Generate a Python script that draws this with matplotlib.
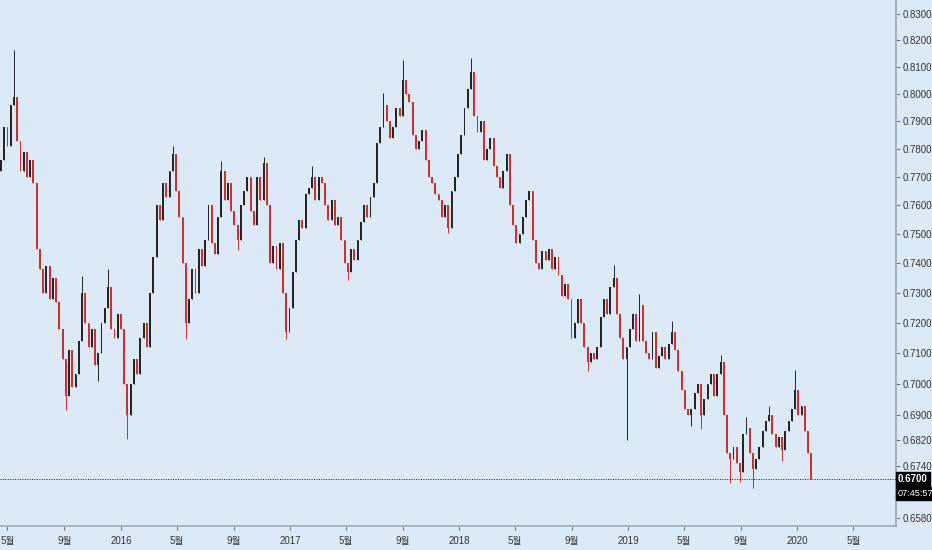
import numpy as np
import pandas as pd
import matplotlib
matplotlib.use('Agg')
import matplotlib.pyplot as plt
from matplotlib.ticker import FixedLocator, NullLocator

# weekly closes (AUD/USD, Apr 2015 - Jan 2020)
closes = [
    0.7760, 0.7880, 0.7810, 0.7960, 0.7990, 0.7830, 0.7720, 0.7790, 0.7700, 0.7760,
    0.7680, 0.7450, 0.7380, 0.7300, 0.7390, 0.7280, 0.7350, 0.7270, 0.7180, 0.7080,
    0.6960, 0.7110, 0.6990, 0.7030, 0.7140, 0.7300, 0.7200, 0.7120, 0.7180, 0.7060,
    0.7100, 0.7200, 0.7250, 0.7320, 0.7180, 0.7150, 0.7230, 0.7180, 0.7000, 0.6900,
    0.7000, 0.7080, 0.7030, 0.7150, 0.7200, 0.7120, 0.7300, 0.7420, 0.7600, 0.7550,
    0.7680, 0.7630, 0.7720, 0.7780, 0.7650, 0.7560, 0.7400, 0.7200, 0.7280, 0.7380,
    0.7300, 0.7450, 0.7390, 0.7480, 0.7600, 0.7470, 0.7430, 0.7560, 0.7720, 0.7620,
    0.7680, 0.7580, 0.7530, 0.7480, 0.7600, 0.7650, 0.7700, 0.7580, 0.7530, 0.7700,
    0.7620, 0.7750, 0.7600, 0.7400, 0.7460, 0.7380, 0.7470, 0.7300, 0.7170, 0.7250,
    0.7370, 0.7480, 0.7550, 0.7520, 0.7640, 0.7660, 0.7700, 0.7620, 0.7700, 0.7680,
    0.7600, 0.7550, 0.7620, 0.7530, 0.7560, 0.7480, 0.7400, 0.7370, 0.7450, 0.7410,
    0.7480, 0.7540, 0.7600, 0.7560, 0.7630, 0.7680, 0.7820, 0.7880, 0.7960, 0.7900,
    0.7840, 0.7880, 0.7950, 0.7920, 0.8050, 0.8000, 0.7970, 0.7850, 0.7800, 0.7830,
    0.7870, 0.7760, 0.7700, 0.7680, 0.7640, 0.7620, 0.7560, 0.7600, 0.7520, 0.7650,
    0.7700, 0.7780, 0.7850, 0.7950, 0.8020, 0.8080, 0.7920, 0.7860, 0.7900, 0.7760,
    0.7800, 0.7840, 0.7740, 0.7700, 0.7660, 0.7720, 0.7780, 0.7600, 0.7530, 0.7470,
    0.7500, 0.7560, 0.7620, 0.7650, 0.7480, 0.7400, 0.7380, 0.7440, 0.7410, 0.7450,
    0.7380, 0.7420, 0.7360, 0.7290, 0.7330, 0.7280, 0.7150, 0.7200, 0.7280, 0.7200,
    0.7120, 0.7070, 0.7100, 0.7080, 0.7120, 0.7220, 0.7280, 0.7230, 0.7320, 0.7350,
    0.7230, 0.7150, 0.7080, 0.7120, 0.7180, 0.7230, 0.7140, 0.7260, 0.7140, 0.7100,
    0.7080, 0.7170, 0.7050, 0.7090, 0.7120, 0.7080, 0.7130, 0.7170, 0.7110, 0.7040,
    0.6980, 0.6920, 0.6900, 0.6920, 0.6970, 0.7000, 0.6900, 0.6950, 0.7000, 0.7030,
    0.6960, 0.7030, 0.7070, 0.6900, 0.6780, 0.6760, 0.6800, 0.6750, 0.6720, 0.6840,
    0.6860, 0.6780, 0.6730, 0.6760, 0.6800, 0.6850, 0.6880, 0.6900, 0.6840, 0.6800,
    0.6830, 0.6790, 0.6850, 0.6880, 0.6920, 0.6980, 0.6900, 0.6930, 0.6850, 0.6780,
    0.6700,
]
first_open = 0.7720
start_date = '2015-04-17'

# wicks that stick out past the bodies
spike_high = {4: 0.8165, 25: 0.7355, 33: 0.7380, 53: 0.7810, 68: 0.7755, 81: 0.7770,
              96: 0.7740, 118: 0.8005, 124: 0.8126, 145: 0.8135, 189: 0.7394,
              197: 0.7296, 207: 0.7206, 222: 0.7092, 230: 0.6895, 237: 0.6930,
              245: 0.7045}
spike_low = {20: 0.6917, 30: 0.7010, 39: 0.6825, 57: 0.7145, 73: 0.7445, 88: 0.7145,
             107: 0.7343, 138: 0.7505, 181: 0.7040, 193: 0.6820, 213: 0.6865,
             216: 0.6855, 225: 0.6688, 228: 0.6690, 232: 0.6671, 241: 0.6754}

price_ticks = [0.8300, 0.8200, 0.8100, 0.8000, 0.7900, 0.7800, 0.7700, 0.7600, 0.7500,
               0.7400, 0.7300, 0.7200, 0.7100, 0.7000, 0.6900, 0.6820, 0.6740, 0.6580]
last_price = 0.6700
countdown = '07:45:57'
month_label = {5: '5월', 9: '9월'}

BG = '#dceaf8'
UP = '#262626'
DOWN = '#d0302c'
AXIS = '#9aabbd'
FONT = ['Liberation Sans', 'Noto Sans CJK KR', 'DejaVu Sans']


def main():
    dates = pd.date_range(start_date, periods=len(closes), freq='7D')
    c = np.array(closes)
    o = np.concatenate([[first_open], c[:-1]])
    hi = np.maximum(o, c)
    lo = np.minimum(o, c)
    for k, v in spike_high.items():
        hi[k] = v
    for k, v in spike_low.items():
        lo[k] = v
    up = c >= o
    cols = np.where(up, UP, DOWN)

    fig = plt.figure(figsize=(9.32, 5.5), dpi=100, facecolor=BG)
    ax = fig.add_axes([0, 24 / 550, 896 / 932, 526 / 550])
    ax.set_facecolor(BG)

    ax.vlines(dates, lo, hi, colors=cols, linewidth=0.7, zorder=2)
    ax.bar(dates, np.maximum(o, c) - np.minimum(o, c), bottom=np.minimum(o, c),
           width=4.0, color=cols, linewidth=0, zorder=3)

    ax.axhline(last_price, color='#111111', linestyle=(0, (1, 1.5)), linewidth=0.7, zorder=4)

    ax.set_yscale('log')
    ax.set_ylim(0.6556, 0.8354)
    ax.set_xlim(pd.Timestamp('2015-04-14 20:00'), pd.Timestamp('2020-08-01'))

    ax.yaxis.tick_right()
    ax.yaxis.set_major_locator(FixedLocator(price_ticks))
    ax.yaxis.set_minor_locator(NullLocator())
    ax.set_yticklabels([f'{p:.4f}' for p in price_ticks])

    xt = pd.date_range('2015-05-01', '2020-05-01', freq='4MS')
    ax.set_xticks(xt)
    ax.set_xticklabels([str(d.year) if d.month == 1 else month_label[d.month] for d in xt])

    ax.tick_params(axis='y', length=3, width=0.6, color='#555555', pad=1.5,
                   labelsize=7, labelcolor='#333333')
    ax.tick_params(axis='x', length=3, width=0.6, color='#555555', pad=4,
                   labelsize=7, labelcolor='#333333')
    for t in ax.get_xticklabels() + ax.get_yticklabels():
        t.set_family(FONT)

    for s in ['left', 'top']:
        ax.spines[s].set_visible(False)
    for s in ['right', 'bottom']:
        ax.spines[s].set_color(AXIS)
        ax.spines[s].set_linewidth(1.2)

    # price and countdown boxes on the right scale
    box = dict(boxstyle='square,pad=0.22', fc='black', ec='black')
    ax.annotate(f'{last_price:.4f}', xy=(1, last_price), xycoords=('axes fraction', 'data'),
                xytext=(1.5, 0), textcoords='offset points', ha='left', va='center',
                fontsize=7, color='white', fontweight='bold', family=FONT,
                bbox=box, zorder=10, annotation_clip=False)
    ax.annotate(countdown, xy=(1, last_price), xycoords=('axes fraction', 'data'),
                xytext=(1.5, -10.5), textcoords='offset points', ha='left', va='center',
                fontsize=6.6, color='white', family=FONT,
                bbox=box, zorder=10, annotation_clip=False)

    fig.savefig('out.png', dpi=100, facecolor=BG)


if __name__ == "__main__":
    main()
